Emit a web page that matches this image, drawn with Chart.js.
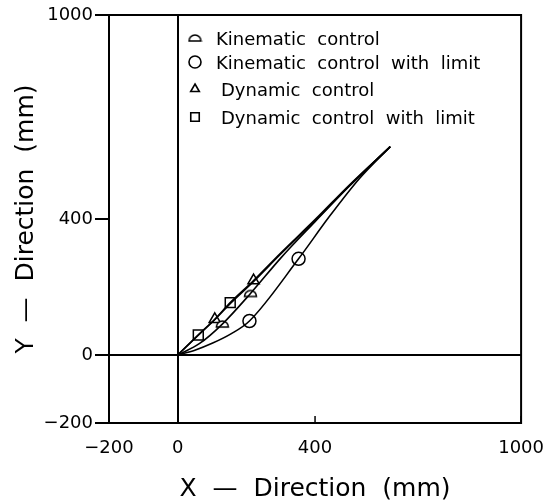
<!DOCTYPE html>
<html>
<head>
<meta charset="utf-8">
<script src="https://cdn.jsdelivr.net/npm/chart.js@4.4.1/dist/chart.umd.min.js"></script>
<style>
  html, body { margin: 0; padding: 0; background: #fff; }
  #wrap { width: 559px; height: 504px; }
</style>
</head>
<body>
<div id="wrap"><canvas id="chartContainer"></canvas></div>
<script>
// tick values
var xTicks = [-200, 0, 400, 1000];
var yTicks = [-200, 0, 400, 1000];

// trajectories (mm)
var kinematicCurve = [[0,0],[64,34],[130,91],[212,181],[300,285],[400,392],[500,497],[619,613]];
var kinematicLimitCurve = [[0,0],[50,14],[102,35],[155,62],[209,100],[352,283],[440,405],[530,520],[619,613]];
var dynamicCurve = [[0,0],[60,59],[108,105],[153,154],[221,219],[300,300],[400,398],[500,500],[619,613]];
var dynamicLimitCurve = [[0,0],[60,58],[110,106],[155,153],[222,217],[300,297],[400,395],[500,497],[619,613]];

// marker positions
var kinematicMarks = [[130,91],[212,181]];
var kinematicLimitMarks = [[209,100],[352,283]];
var dynamicMarks = [[108,105],[221,219]];
var dynamicLimitMarks = [[60,59],[153,154]];

var legendLabels = ['Kinematic  control', 'Kinematic  control  with  limit', 'Dynamic  control', 'Dynamic  control  with  limit'];

function toXY(arr) {
    return arr.map(function (p) { return { x: p[0], y: p[1] }; });
}

function fmt(v) {
    return v < 0 ? '\u2212' + Math.abs(v) : String(v);
}

// half circle marker (dome with flat base)
function halfCircle() {
    var c = document.createElement('canvas');
    c.width = 15; c.height = 10;
    var g = c.getContext('2d');
    g.strokeStyle = '#000';
    g.fillStyle = '#fff';
    g.lineWidth = 1.6;
    g.beginPath();
    g.arc(7.5, 8, 6, Math.PI, 0);
    g.closePath();
    g.fill();
    g.stroke();
    return c;
}

function lineSet(data) {
    return {
        data: toXY(data), showLine: true, borderColor: '#000', borderWidth: 1.6,
        pointRadius: 0, cubicInterpolationMode: 'monotone', fill: false, isCurve: true
    };
}
function markSet(label, data, style, r, legendR) {
    return {
        label: label, data: toXY(data), showLine: false, pointStyle: style,
        pointRadius: r, legendRadius: legendR, borderColor: '#000', borderWidth: 1.5, backgroundColor: '#fff'
    };
}

var halfMark = halfCircle();
var legendRows = [40, 64, 91, 119];

var frameAndLegend = {
    id: 'frameAndLegend',
    afterDraw: function (chart) {
        var ctx = chart.ctx, a = chart.chartArea;
        ctx.save();
        ctx.strokeStyle = '#000';
        ctx.lineWidth = 2;
        ctx.strokeRect(a.left, a.top, a.right - a.left, a.bottom - a.top);
        // inner ticks on x axis
        var xs = chart.scales.x;
        ctx.lineWidth = 1.5;
        [400, 1000].forEach(function (v) {
            var px = xs.getPixelForValue(v);
            ctx.beginPath();
            ctx.moveTo(px, a.bottom);
            ctx.lineTo(px, a.bottom - 7);
            ctx.stroke();
        });
        // legend
        var marks = chart.data.datasets.filter(function (d) { return !d.isCurve; });
        ctx.font = '18px "DejaVu Sans", sans-serif';
        ctx.textBaseline = 'middle';
        marks.forEach(function (d, i) {
            var y = legendRows[i];
            var x = a.left + 86;
            ctx.fillStyle = '#fff';
            ctx.strokeStyle = '#000';
            ctx.lineWidth = 1.6;
            Chart.helpers.drawPoint(ctx, {
                pointStyle: d.pointStyle, radius: d.legendRadius, rotation: 0,
                borderWidth: 1.6
            }, x, y - 2);
            ctx.fillStyle = '#000';
            ctx.fillText(d.label, x + (i < 2 ? 21 : 26), y);
        });
        ctx.restore();
    }
};

var tickFont = { family: '"DejaVu Sans", sans-serif', size: 18 };
var titleFont = { family: '"DejaVu Sans", sans-serif', size: 25 };

var ctx = document.getElementById('chartContainer').getContext('2d');
var myChart = new Chart(ctx, {
    type: 'scatter',
    data: {
        datasets: [
            lineSet(kinematicCurve),
            lineSet(kinematicLimitCurve),
            lineSet(dynamicCurve),
            lineSet(dynamicLimitCurve),
            markSet(legendLabels[0], kinematicMarks, halfMark, 6, 6),
            markSet(legendLabels[1], kinematicLimitMarks, 'circle', 6.5, 6),
            markSet(legendLabels[2], dynamicMarks, 'triangle', 6.5, 5),
            markSet(legendLabels[3], dynamicLimitMarks, 'rect', 7, 6)
        ]
    },
    options: {
        responsive: true,
        maintainAspectRatio: false,
        animation: false,
        layout: { padding: { top: 15, right: 37, left: 0, bottom: 0 } },
        plugins: { legend: { display: false }, tooltip: { enabled: false } },
        scales: {
            x: {
                type: 'linear', min: -200, max: 1000,
                afterBuildTicks: function (s) { s.ticks = xTicks.map(function (v) { return { value: v }; }); },
                afterFit: function (s) { s.height = 81; },
                ticks: { color: '#000', font: tickFont, maxRotation: 0, autoSkip: false, padding: 15, callback: fmt },
                grid: {
                    color: function (c) { return c.tick && c.tick.value === 0 ? '#000' : 'rgba(0,0,0,0)'; },
                    lineWidth: 2, drawTicks: false
                },
                border: { display: false },
                title: { display: true, text: 'X  \u2014  Direction  (mm)', color: '#000', font: titleFont, padding: { top: 6, bottom: 0 } }
            },
            y: {
                type: 'linear', min: -200, max: 1000,
                afterBuildTicks: function (s) { s.ticks = yTicks.map(function (v) { return { value: v }; }); },
                afterFit: function (s) { s.width = 109; },
                ticks: { color: '#000', font: tickFont, autoSkip: false, padding: 2, callback: fmt },
                grid: {
                    color: function (c) { return c.tick && c.tick.value === 0 ? '#000' : 'rgba(0,0,0,0)'; },
                    tickColor: '#000', tickLength: 14, lineWidth: 2
                },
                border: { display: false },
                title: { display: true, text: 'Y  \u2014  Direction  (mm)', color: '#000', font: titleFont, padding: { top: 11, bottom: 0 } }
            }
        }
    },
    plugins: [frameAndLegend]
});
</script>
</body>
</html>
